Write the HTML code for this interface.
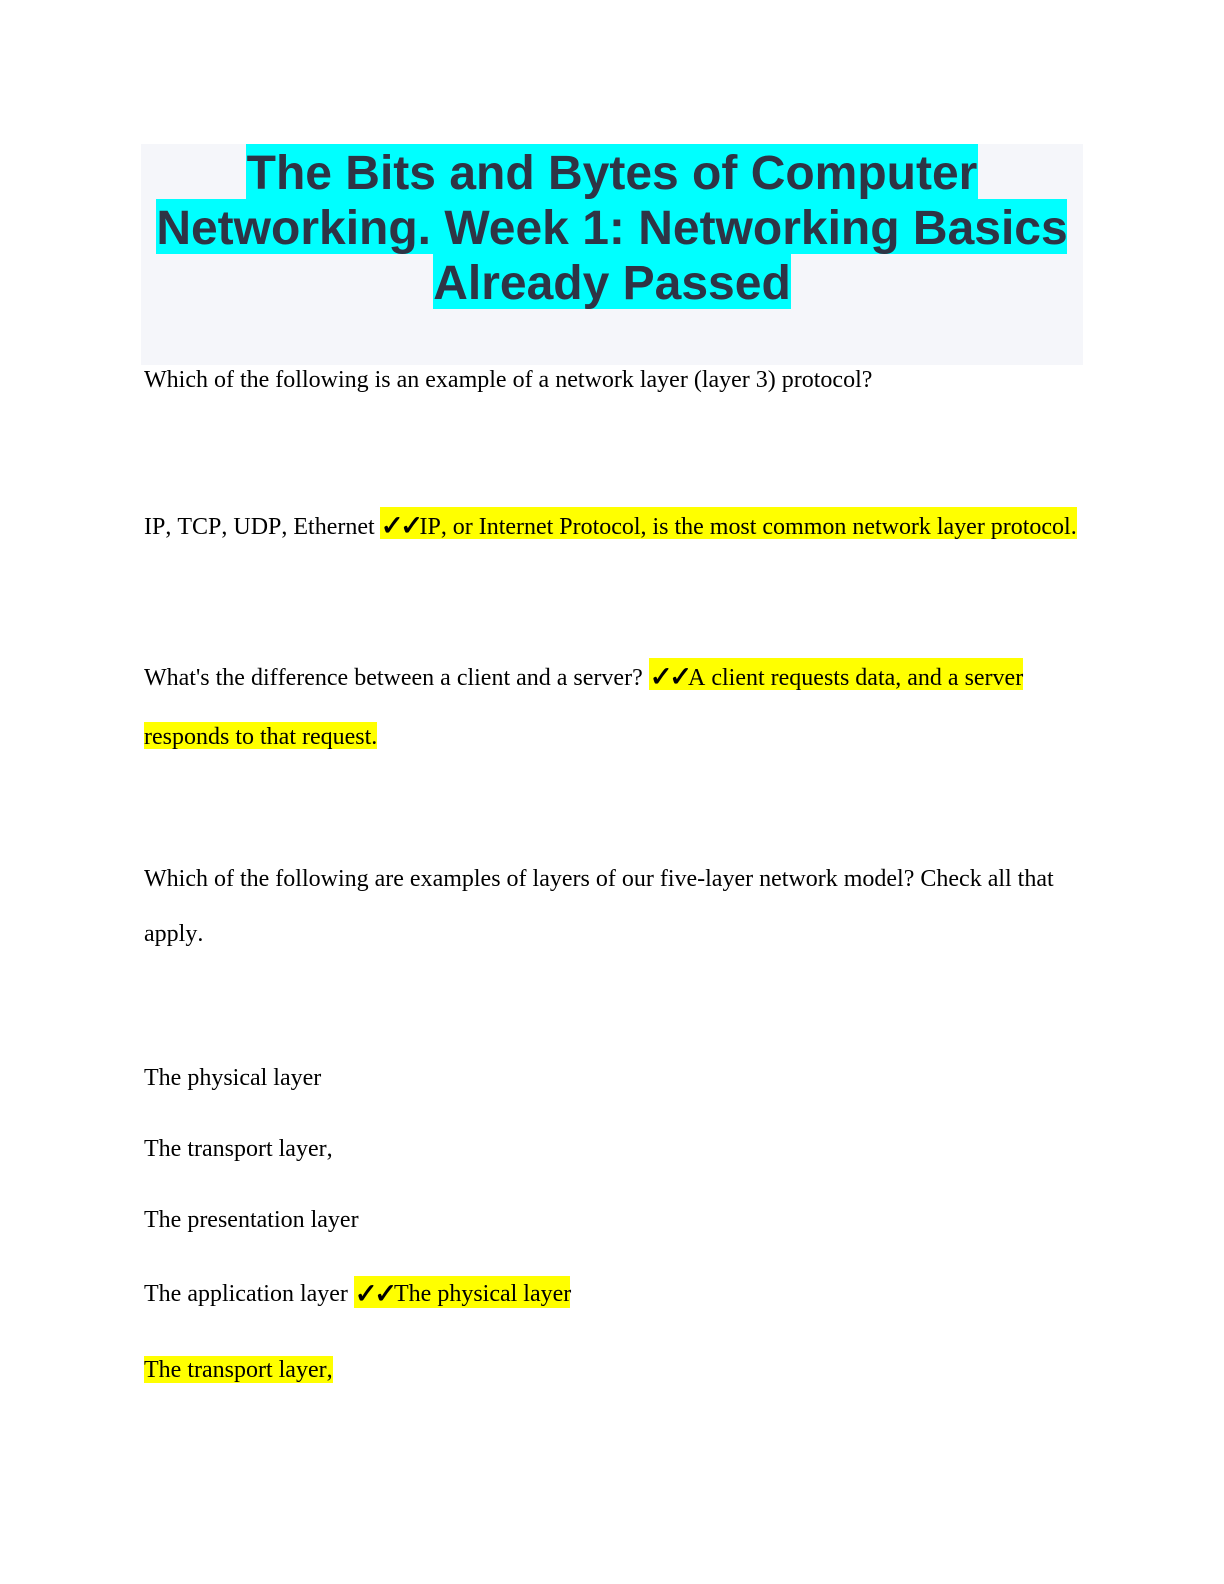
<!DOCTYPE html>
<html lang="en"><head><meta charset="utf-8"><title>The Bits and Bytes of Computer Networking</title>
<style>
html,body{margin:0;padding:0;background:#fff;width:1224px;height:1584px;overflow:hidden}
#p{position:relative;width:1224px;height:1584px;overflow:hidden}
.r{position:absolute}
.c{background:#0ff}.y{background:#ff0}
.h{position:absolute;left:141px;width:942px;text-align:center;font:bold 48px/55px "Liberation Sans",sans-serif;color:#2e3445;white-space:nowrap}
.t{position:absolute;font:24px/28px "Liberation Serif",serif;font-kerning:none;color:#000;white-space:nowrap}
.k{position:absolute;font:28px/28px "DejaVu Sans",sans-serif;color:#000;white-space:nowrap;-webkit-text-stroke:.7px #000}
</style></head><body><div id="p">
<div class="r" style="left:141px;top:144px;width:942px;height:221px;background:#f5f6fa"></div>
<div class="r c" style="left:246px;top:144px;width:732px;height:55px"></div>
<div class="r c" style="left:156px;top:199px;width:911px;height:55px"></div>
<div class="r c" style="left:433px;top:254px;width:358px;height:55px"></div>
<div class="h" style="top:146px">The Bits and Bytes of Computer</div>
<div class="h" style="top:201px">Networking. Week 1: Networking Basics</div>
<div class="h" style="top:256px">Already Passed</div>

<div class="t" style="left:144px;top:366px">Which of the following is an example of a network layer (layer 3) protocol?</div>

<div class="r y" style="left:380px;top:507px;width:697px;height:32px"></div>
<div class="t" style="left:144px;top:513px">IP, TCP, UDP, Ethernet</div>
<div class="k" style="left:380.5px;top:512px">✓</div><div class="k" style="left:400px;top:512px">✓</div>
<div class="t" style="left:419.5px;top:513px;letter-spacing:-.01px">IP, or Internet Protocol, is the most common network layer protocol.</div>

<div class="r y" style="left:649px;top:658px;width:374px;height:32px"></div>
<div class="t" style="left:144px;top:664px">What's the difference between a client and a server?</div>
<div class="k" style="left:649.5px;top:663px">✓</div><div class="k" style="left:669px;top:663px">✓</div>
<div class="t" style="left:688px;top:664px">A client requests data, and a server</div>

<div class="r y" style="left:144px;top:722px;width:233px;height:27px"></div>
<div class="t" style="left:144px;top:723px">responds to that request.</div>

<div class="t" style="left:144px;top:865px">Which of the following are examples of layers of our five-layer network model? Check all that</div>
<div class="t" style="left:144px;top:920px">apply.</div>

<div class="t" style="left:144px;top:1064px">The physical layer</div>
<div class="t" style="left:144px;top:1135px">The transport layer,</div>
<div class="t" style="left:144px;top:1206px">The presentation layer</div>

<div class="r y" style="left:354px;top:1276px;width:216px;height:32px"></div>
<div class="t" style="left:144px;top:1280px">The application layer</div>
<div class="k" style="left:354.5px;top:1280px">✓</div><div class="k" style="left:374px;top:1280px">✓</div>
<div class="t" style="left:394px;top:1280px">The physical layer</div>

<div class="r y" style="left:144px;top:1356px;width:189px;height:27px"></div>
<div class="t" style="left:144px;top:1356px">The transport layer,</div>
</div></body></html>
